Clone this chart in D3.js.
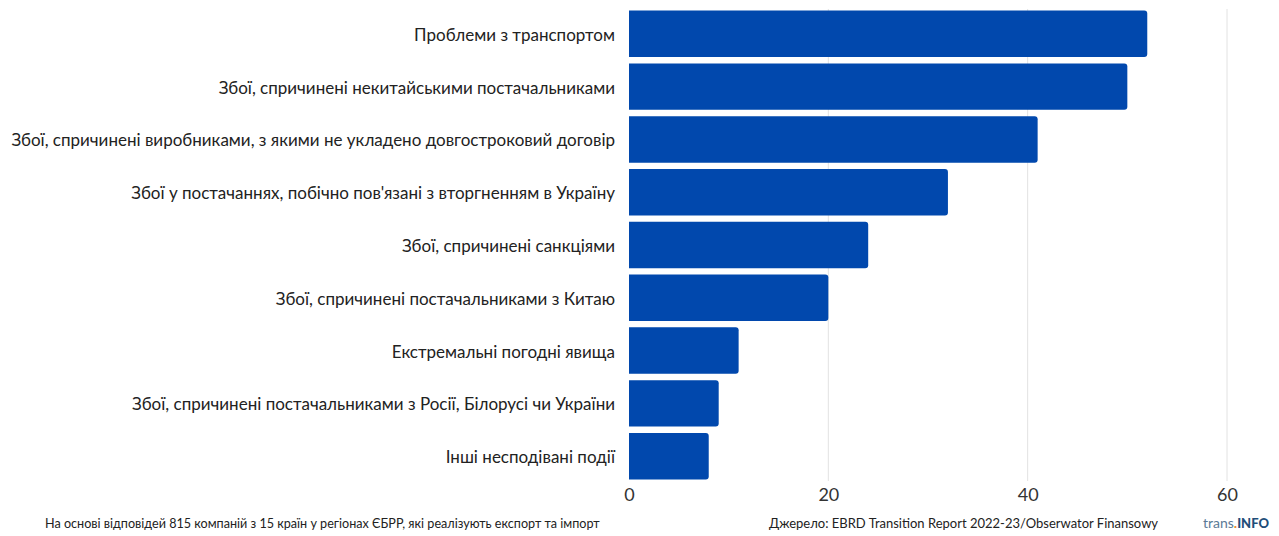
<!DOCTYPE html>
<html lang="uk">
<head>
<meta charset="UTF-8">
<script src="https://d3js.org/d3.v7.min.js"></script>
<style>
  html, body { margin: 0; padding: 0; background: #fff; overflow: hidden; }
  svg { font-family: Lato, "Open Sans", sans-serif; }
  .cat { font-size: 17px; fill: #222; }
  .tick text { font-size: 18px; fill: #333; }
  .grid line { stroke: #e2e2e2; stroke-width: 1px; }
  .note { font-size: 13px; fill: #222; }
</style>
</head>
<body>
<svg id="chart" width="1279" height="536"></svg>
<script>
const categories = [
  "Проблеми з транспортом",
  "Збої, спричинені некитайськими постачальниками",
  "Збої, спричинені виробниками, з якими не укладено довгостроковий договір",
  "Збої у постачаннях, побічно пов'язані з вторгненням в Україну",
  "Збої, спричинені санкціями",
  "Збої, спричинені постачальниками з Китаю",
  "Екстремальні погодні явища",
  "Збої, спричинені постачальниками з Росії, Білорусі чи України",
  "Інші несподівані події"
];
const values = [52, 50, 41, 32, 24, 20, 11, 9, 8];
const ticks = [0, 20, 40, 60];

const svg = d3.select("#chart");
const plotLeft = 629, plotRight = 1227, plotTop = 9, plotBottom = 481;

const x = d3.scaleLinear().domain([0, 60]).range([plotLeft, plotRight]);
const y = d3.scaleBand().domain(categories).range([plotTop, plotBottom]).paddingInner(0.12).paddingOuter(0.03);

// grid
svg.append("g").attr("class", "grid")
  .selectAll("line").data(ticks.filter(d => d > 0)).join("line")
  .attr("x1", d => x(d)).attr("x2", d => x(d))
  .attr("y1", plotTop).attr("y2", plotBottom);

// bars with rounded right end
const r = 3;
svg.append("g").selectAll("path").data(values).join("path")
  .attr("fill", "#0148ad")
  .attr("d", (d, i) => {
    const x0 = x(0), x1 = x(d), y0 = y(categories[i]), h = y.bandwidth();
    return `M${x0},${y0}H${x1 - r}Q${x1},${y0} ${x1},${y0 + r}V${y0 + h - r}Q${x1},${y0 + h} ${x1 - r},${y0 + h}H${x0}Z`;
  });

// category labels
svg.append("g").selectAll("text").data(categories).join("text")
  .attr("class", "cat")
  .attr("x", plotLeft - 14)
  .attr("y", d => y(d) + y.bandwidth() / 2 + 1)
  .attr("dy", "0.35em")
  .attr("text-anchor", "end")
  .text(d => d);

// x axis
const ax = svg.append("g").attr("transform", `translate(0,${plotBottom})`)
  .call(d3.axisBottom(x).tickValues(ticks).tickSize(0).tickPadding(7));
ax.select(".domain").remove();
ax.selectAll(".tick text").attr("font-family", "Lato, sans-serif");

// footer
svg.append("text").attr("class", "note")
  .attr("x", 45).attr("y", 528)
  .style("font-size", "12.6px")
  .text("На основі відповідей 815 компаній з 15 країн у регіонах ЄБРР, які реалізують експорт та імпорт");
svg.append("text").attr("class", "note")
  .attr("x", 769).attr("y", 528)
  .text("Джерело: EBRD Transition Report 2022-23/Obserwator Finansowy");

const logo = svg.append("text").attr("x", 1203).attr("y", 528)
  .attr("font-size", "14px");
logo.append("tspan").attr("fill", "#5b7a96").text("trans");
logo.append("tspan").attr("fill", "#f08a24").attr("font-weight", "bold").text(".");
logo.append("tspan").attr("fill", "#1f4e79").attr("font-weight", "900").attr("font-size", "13px").text("INFO");
</script>
</body>
</html>
